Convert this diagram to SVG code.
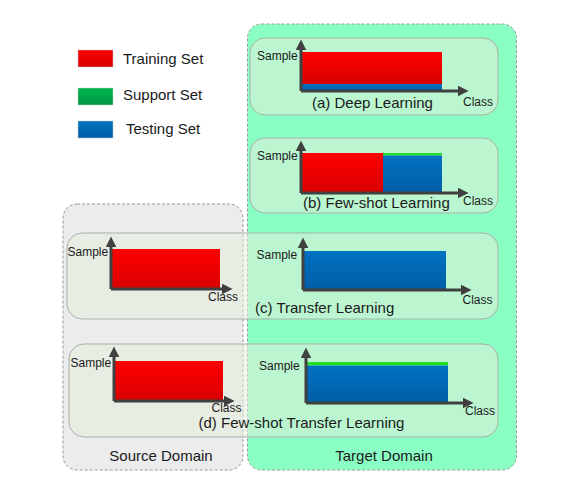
<svg xmlns="http://www.w3.org/2000/svg" width="565" height="484" viewBox="0 0 565 484">
<defs>
<linearGradient id="gRed" x1="0" y1="0" x2="0" y2="1"><stop offset="0" stop-color="#ff0000"/><stop offset="1" stop-color="#d80000"/></linearGradient>
<linearGradient id="gBlue" x1="0" y1="0" x2="0" y2="1"><stop offset="0" stop-color="#0072c2"/><stop offset="1" stop-color="#005da6"/></linearGradient>
<linearGradient id="gGreen" x1="0" y1="0" x2="0" y2="1"><stop offset="0" stop-color="#00b44e"/><stop offset="1" stop-color="#009a44"/></linearGradient>
<marker id="arr" markerUnits="userSpaceOnUse" markerWidth="11" markerHeight="11" viewBox="0 0 10 10" refX="4" refY="5" orient="auto"><path d="M0,0 L10,5 L0,10 z" fill="#404040"/></marker>
<style>
text{font-family:"Liberation Sans",Arial,sans-serif;fill:#1a1a1a}
.ax{font-size:12px}
.ttl{font-size:15px}
.dom{stroke:#9a9a9a;stroke-width:1;stroke-dasharray:3,2}
.panel{fill:#e6eedc;fill-opacity:0.55;stroke:#a8b0a8;stroke-width:1}
.axis{stroke:#404040;stroke-width:3;fill:none;marker-end:url(#arr)}
.red{fill:url(#gRed)}
.blue{fill:url(#gBlue)}
.sup{fill:#22e022}
.lg{stroke:#c8c8c8;stroke-width:0.5}
</style>
</defs>
<rect width="565" height="484" fill="#ffffff"/>
<g id="legend">
<rect class="red lg" x="78" y="50" width="35" height="17"/>
<text class="ttl" x="123" y="63.5">Training Set</text>
<rect class="lg" fill="url(#gGreen)" x="78" y="88" width="35" height="17"/>
<text class="ttl" x="123" y="100">Support Set</text>
<rect class="blue lg" x="78" y="121" width="35" height="17"/>
<text class="ttl" x="126" y="134">Testing Set</text>
</g>
<g id="source-domain">
<rect class="dom" x="63" y="204" width="180" height="266" rx="14" fill="#ececec"/>
<text class="ttl" x="161" y="461" text-anchor="middle">Source Domain</text>
</g>
<g id="target-domain">
<rect class="dom" x="247.5" y="24" width="269" height="446" rx="14" fill="#8affc4"/>
<text class="ttl" x="384" y="461" text-anchor="middle">Target Domain</text>
</g>
<g id="panel-a">
<rect class="panel" x="250" y="38" width="248" height="77" rx="15"/>
<rect class="red" x="301" y="52" width="141" height="32"/>
<rect class="blue" x="301" y="84" width="141" height="7"/>
<text class="ax" x="257" y="60">Sample</text>
<text class="ax" x="463" y="106">Class</text>
<text class="ttl" x="312" y="108">(a) Deep Learning</text>
</g>
<g id="panel-b">
<rect class="panel" x="250" y="138" width="248" height="75" rx="15"/>
<rect class="red" x="301" y="153" width="82" height="40"/>
<rect class="sup" x="383" y="153" width="59" height="2.5"/>
<rect class="blue" x="383" y="155.5" width="59" height="37.5"/>
<text class="ax" x="257" y="159.5">Sample</text>
<text class="ax" x="463" y="205">Class</text>
<text class="ttl" x="303" y="208">(b) Few-shot Learning</text>
</g>
<g id="panel-c">
<rect class="panel" x="67" y="233" width="431" height="86" rx="15"/>
<rect class="red" x="111" y="249" width="109" height="40"/>
<rect class="blue" x="303" y="251" width="143" height="39"/>
<text class="ax" x="67.5" y="256">Sample</text>
<text class="ax" x="208" y="301">Class</text>
<text class="ax" x="256.5" y="258.5">Sample</text>
<text class="ax" x="462.5" y="303.5">Class</text>
<text class="ttl" x="255" y="313">(c) Transfer Learning</text>
</g>
<g id="panel-d">
<rect class="panel" x="69" y="344" width="429" height="93" rx="15"/>
<rect class="red" x="114" y="361" width="109" height="40"/>
<rect class="sup" x="306" y="362" width="142" height="3.5"/>
<rect class="blue" x="306" y="365.5" width="142" height="37.5"/>
<text class="ax" x="70.5" y="367">Sample</text>
<text class="ax" x="211.5" y="412">Class</text>
<text class="ax" x="259" y="369.5">Sample</text>
<text class="ax" x="465" y="415">Class</text>
<text class="ttl" x="198.5" y="428">(d) Few-shot Transfer Learning</text>
</g>
<g id="connectors">
<path class="axis" d="M301,91 V46"/>
<path class="axis" d="M301,91 H462"/>
<path class="axis" d="M301,193 V147"/>
<path class="axis" d="M301,193 H462"/>
<path class="axis" d="M111,289 V243"/>
<path class="axis" d="M111,289 H226"/>
<path class="axis" d="M303,290 V244"/>
<path class="axis" d="M303,290 H465"/>
<path class="axis" d="M114,401 V353"/>
<path class="axis" d="M114,401 H228"/>
<path class="axis" d="M306,403 V354"/>
<path class="axis" d="M306,403 H467"/>
</g>
</svg>
